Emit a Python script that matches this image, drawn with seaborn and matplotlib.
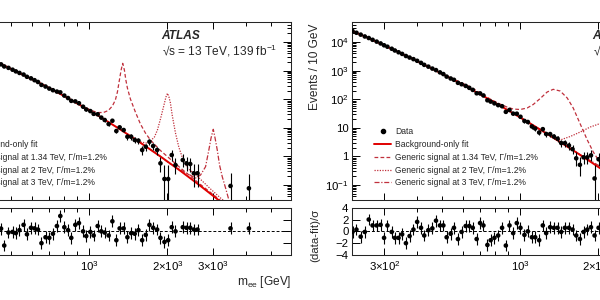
import matplotlib
matplotlib.use("Agg")
import matplotlib.pyplot as plt
import seaborn as sns
from matplotlib.lines import Line2D
from matplotlib.ticker import FixedLocator, FuncFormatter, NullFormatter

# ---------------- left figure: dielectron ----------------
ee_mass = [457, 470, 488, 506, 521, 538, 558, 575, 596, 615, 634, 654, 678, 701, 724,
           750, 773, 801, 828, 852, 883, 912, 946, 973, 1009, 1039, 1077, 1112, 1146, 1187,
           1227, 1271, 1309, 1356, 1402, 1449, 1496, 1546, 1598, 1650, 1705, 1762, 1825, 1880,
           1948, 2013, 2078, 2148, 2292, 2369, 2448, 2528, 2612, 3501, 4121]
ee_events = [1657, 1398, 1249, 1077, 942, 830, 728, 609, 537, 463, 401, 317, 278, 236, 207,
             185, 174, 134, 110, 87.7, 84.0, 72.5, 54.8, 43.9, 38.5, 30.9, 29.8, 22.8, 18.8, 13.6,
             17.7, 7.74, 10.4, 8.39, 4.9, 4.9, 3.76, 3.56, 1.68, 2.19, 3.27, 2.32, 1.68, 0.575,
             0.163, 0.163, 1.12, 0.50, 0.75, 0.575, 0.545, 0.258, 0.258, 0.093, 0.077]
ee_err_lo = [33, 30, 28, 25, 23, 21.5, 19.8, 17.9, 16.5, 15.1, 13.8, 12.1, 11.1, 10.1, 9.3,
             8.6, 8.2, 7.1, 6.3, 5.6, 5.4, 4.9, 4.2, 3.7, 3.4, 3.0, 2.9, 2.5, 2.2, 1.86,
             2.09, 1.35, 1.55, 1.37, 1.03, 1.01, 0.87, 0.83, 0.56, 0.63, 0.76, 0.63, 0.53, 0.30,
             0.163, 0.163, 0.40, 0.26, 0.31, 0.27, 0.26, 0.175, 0.17, 0.093, 0.077]
ee_err_hi = [33, 30, 28, 25, 23, 21.5, 19.8, 17.9, 16.5, 15.1, 13.8, 12.1, 11.1, 10.1, 9.3,
             8.6, 8.2, 7.1, 6.3, 5.6, 5.4, 4.9, 4.2, 3.7, 3.4, 3.0, 2.9, 2.5, 2.2, 1.86,
             2.09, 1.35, 1.55, 1.37, 1.03, 1.01, 0.87, 0.83, 0.56, 0.63, 0.76, 0.63, 0.53, 0.42,
             0.34, 0.34, 0.50, 0.36, 0.42, 0.38, 0.37, 0.27, 0.27, 0.18, 0.17]
ee_pull = [0.46, -2.4, -0.2, -0.1, -0.3, 0.2, 1.1, -0.5, 0.6, 0.5, 0.3, -2.0, -1.0, -1.1, -0.4,
           0.9, 2.6, 0.7, 0.2, -1.1, 1.1, 1.4, 0.0, -0.8, -0.1, -0.7, 0.9, 0.0, -0.2, -0.7,
           1.7, -1.5, 0.5, 0.5, -1.0, -0.3, -0.4, 0.2, -1.5, -0.6, 1.1, 0.6, 0.3, -1.1,
           -1.8, -1.5, 0.7, 0.0, 0.7, 0.6, 0.6, 0.3, 0.3, 0.5, 0.5]

ee_fit_mass = [415, 457, 541, 647, 773, 923, 1103, 1317, 1573, 1880, 2246, 2683, 3205, 3500]
ee_fit = [2427, 1702, 805, 360, 153, 62.2, 23.9, 8.75, 3.02, 0.995, 0.312, 0.0927, 0.0262, 0.0136]

ee_sig1_mass = [773, 883, 948, 1009, 1074, 1133, 1184, 1227, 1260, 1283, 1306, 1326, 1345,
                1365, 1383, 1402, 1440, 1505, 1574, 1645, 1720, 1880, 2246, 2683, 3205]
ee_sig1 = [153.5, 81.3, 56.5, 42.0, 34.3, 34.3, 40.4, 57.9, 93.9, 178.6, 469.5, 1050, 1799,
           1050, 469.5, 246.6, 101.8, 35.7, 13.6, 6.6, 3.76, 1.61, 0.394, 0.1045, 0.0288]
ee_sig2_mass = [1317, 1440, 1574, 1660, 1720, 1782, 1830, 1880, 1914, 1948, 1974, 2001, 2027,
                2054, 2086, 2148, 2212, 2286, 2390, 2612, 2933, 3205, 3381]
ee_sig2 = [8.75, 5.18, 3.20, 2.95, 3.47, 4.78, 8.39, 20.4, 38.7, 73.8, 119.6, 161, 119.6,
           73.8, 28.1, 6.59, 2.14, 0.881, 0.394, 0.199, 0.0728, 0.0352, 0.0236]
ee_sig3_mass = [1573, 1720, 1880, 2054, 2348, 2567, 2683, 2805, 2888, 2945, 3004, 3052, 3112,
                3176, 3253, 3350, 3450, 3566]
ee_sig3 = [3.02, 1.75, 0.995, 0.540, 0.272, 0.176, 0.224, 0.438, 1.68, 4.41, 8.89, 4.41, 1.68,
           0.502, 0.196, 0.0789, 0.030, 0.0158]

# ---------------- right figure: dimuon ----------------
mm_mass = [226, 234, 243, 252, 261, 270, 280, 290, 299, 308, 320, 329, 340, 351, 363, 375, 388,
           401, 415, 427, 443, 459, 474, 491, 506, 521, 540, 556, 576, 595, 617, 637, 657, 680,
           701, 722, 748, 770, 796, 823, 852, 881, 910, 940, 971, 1003, 1039, 1071, 1110, 1143,
           1184, 1223, 1260, 1305, 1349, 1394, 1440, 1488, 1542, 1592, 1645, 1700, 1756, 1814,
           1875, 1936, 2006]
mm_events = [24220, 21070, 18120, 15640, 13800, 11950, 10330, 8920, 7690, 6860, 5820, 5057,
             4384, 3844, 3246, 2859, 2520, 2205, 1867, 1591, 1378, 1178, 1043, 868, 757, 618,
             531, 477, 374, 334, 292, 250, 212, 161.3, 160, 135.6, 91.9, 82.7, 71.7, 62.1, 57.0,
             36.2, 42.2, 31.4, 31.2, 24.4, 17.4, 16.0, 11.2, 9.5, 6.87, 9.0, 6.1, 6.06, 4.97,
             4.18, 2.95, 2.93, 2.41, 1.8, 0.86, 0.51, 0.93, 0.93, 1.09, 0.17, 0.8]
mm_err_lo = [180, 164, 150, 136, 126, 115, 105, 96, 88, 82, 74, 68, 62, 57, 52, 48, 44, 41, 37,
             33, 31, 28, 26, 23, 21, 19, 17, 16, 14, 13, 12, 10.9, 9.9, 8.4, 8.3, 7.5, 6.1, 5.7,
             5.2, 4.8, 4.5, 3.5, 3.7, 3.2, 3.1, 2.7, 2.2, 2.1, 1.74, 1.58, 1.32, 1.49, 1.21,
             1.18, 1.05, 0.95, 0.79, 0.77, 0.69, 0.58, 0.40, 0.30, 0.40, 0.39, 0.42, 0.17, 0.35]
mm_err_hi = [180, 164, 150, 136, 126, 115, 105, 96, 88, 82, 74, 68, 62, 57, 52, 48, 44, 41, 37,
             33, 31, 28, 26, 23, 21, 19, 17, 16, 14, 13, 12, 10.9, 9.9, 8.4, 8.3, 7.5, 6.1, 5.7,
             5.2, 4.8, 4.5, 3.5, 3.7, 3.2, 3.1, 2.7, 2.2, 2.1, 1.74, 1.58, 1.32, 1.49, 1.21,
             1.18, 1.05, 0.95, 0.79, 0.77, 0.8, 0.7, 0.55, 0.45, 0.55, 0.54, 0.57, 0.33, 0.5]
mm_pull = [-0.1, 0.3, -0.9, -0.1, 2.0, 1.0, 1.0, 1.1, -1.1, 1.0, -0.1, -1.1, -1.1, -0.5, -2.0,
           -0.8, 0.3, 1.6, 0.6, -0.7, 0.2, 0.5, 1.8, 1.0, 1.0, -1.0, -0.4, 0.6, -1.3, -0.1,
           0.9, 0.9, 0.6, -1.3, 1.4, 1.0, -2.3, -1.5, -1.1, -0.7, 0.6, -2.4, 1.0, -0.3, 1.4,
           0.6, -0.6, 0.0, -1.0, -1.0, -1.5, 1.0, -0.3, 0.7, 0.6, 0.6, -0.1, 0.6, 0.6, 0.3,
           -0.7, -1.3, -0.1, 0.3, 0.7, -0.7, 0.6]

mm_fit_mass = [226, 270, 322, 385, 460, 550, 657, 785, 937, 1119, 1338, 1598, 1909, 2280, 2723]
mm_fit = [24240, 11838, 5605, 2573, 1145, 494, 206, 83.6, 32.8, 12.5, 4.61, 1.65, 0.572, 0.192,
          0.063]

mm_sig1_mass = [491, 641, 766, 837, 889, 940, 1000, 1064, 1123, 1195, 1271, 1341, 1427, 1519,
                1602, 1705, 1815, 1914, 2037, 2226, 2433]
mm_sig1 = [845, 274, 101.8, 68.1, 53.5, 45.5, 43.7, 49.3, 65.3, 105.9, 178.6, 222, 193.8, 110.4,
           49.3, 13.6, 3.76, 1.43, 0.590, 0.254, 0.133]
mm_sig2_mass = [1000, 1195, 1306, 1427, 1560, 1705, 1864, 2037, 2226, 2433, 2906]
mm_sig2 = [23.2, 8.67, 5.40, 3.76, 4.98, 7.14, 10.7, 14.2, 14.8, 11.6, 3.76]
mm_sig3_mass = [1000, 1427, 1705, 1914, 2037, 2226, 2433, 2700, 3000]
mm_sig3 = [23.2, 3.2, 1.15, 0.62, 0.45, 0.33, 0.35, 0.55, 1.0]

sig_labels = [u"Generic signal at 1.34 TeV, \u0393/m=1.2%",
              u"Generic signal at 2 TeV, \u0393/m=1.2%",
              u"Generic signal at 3 TeV, \u0393/m=1.2%"]

# ---------------- style ----------------
sns.set_theme(style="ticks")
plt.rcParams["font.family"] = ["Liberation Sans", "DejaVu Sans"]
plt.rcParams["mathtext.fontset"] = "custom"
plt.rcParams["mathtext.rm"] = "Liberation Sans"
plt.rcParams["mathtext.it"] = "Liberation Sans:italic"
plt.rcParams["mathtext.bf"] = "Liberation Sans:bold"
plt.rcParams["axes.linewidth"] = 0.75

FIT_C = "#e00000"
SIG_C = "#c0303c"
LS1 = (0, (3, 1.8))
LS2 = (0, (1, 1.1))
LS3 = (0, (4, 1.4, 1, 1.4))
FS = 8.6


def ylog_fmt(v, pos):
    if abs(v - 1) < 1e-9:
        return "1"
    if abs(v - 10) < 1e-9:
        return "10"
    e = int(round(__import__("math").log10(v)))
    return r"$10^{%d}$" % e


x_labels = {300: r"$3{\times}10^{2}$", 1000: r"$10^{3}$",
            2000: r"$2{\times}10^{3}$", 3000: r"$3{\times}10^{3}$"}


def style_axes(ax, ratio=False):
    ax.set_xscale("log")
    ax.set_xlim(225, 6000)
    ax.xaxis.set_major_locator(FixedLocator([300, 1000, 2000, 3000]))
    ax.xaxis.set_minor_locator(FixedLocator([200, 400, 500, 600, 700, 800, 900,
                                             4000, 5000, 6000]))
    ax.xaxis.set_minor_formatter(NullFormatter())
    ax.tick_params(axis="both", which="both", direction="in", top=True, right=True,
                   width=0.7, colors="black", labelsize=8.2)
    ax.tick_params(axis="x", which="major", length=5, pad=3)
    ax.tick_params(axis="x", which="minor", length=2.9)
    ax.tick_params(axis="y", which="major", length=6, pad=2.5)
    ax.tick_params(axis="y", which="minor", length=3.2)
    if ratio:
        ax.set_ylim(-4, 4)
        ax.set_yticks([-4, -2, 0, 2, 4])
        ax.xaxis.set_major_formatter(FuncFormatter(lambda v, p: x_labels.get(int(round(v)), "")))
    else:
        ax.set_yscale("log")
        ax.set_ylim(0.03, 5e4)
        ax.yaxis.set_major_locator(FixedLocator([0.1, 1, 10, 100, 1e3, 1e4]))
        ax.yaxis.set_minor_locator(FixedLocator(
            [m * 10.0 ** e for e in range(-2, 5) for m in range(2, 10)]))
        ax.yaxis.set_minor_formatter(NullFormatter())
        ax.yaxis.set_major_formatter(FuncFormatter(ylog_fmt))
        ax.xaxis.set_major_formatter(NullFormatter())


def draw(ax_main, ax_ratio, mass, events, lo, hi, pull, fit_m, fit_v, sigs, xlab):
    style_axes(ax_main)
    style_axes(ax_ratio, ratio=True)

    sns.lineplot(x=fit_m, y=fit_v, ax=ax_main, color=FIT_C, lw=1.4,
                 estimator=None, sort=False, zorder=3)
    for (sm, sv), ls in zip(sigs, [LS1, LS2, LS3]):
        sns.lineplot(x=sm, y=sv, ax=ax_main, color=SIG_C, lw=0.9, linestyle=ls,
                     estimator=None, sort=False, zorder=2)

    ax_main.errorbar(mass, events, yerr=[lo, hi], fmt="none", ecolor="black",
                     elinewidth=0.8, capsize=0, zorder=4)
    sns.scatterplot(x=mass, y=events, ax=ax_main, color="black", s=11,
                    edgecolor="none", zorder=5, legend=False)

    ax_ratio.axhline(0, color="black", lw=0.7, ls=(0, (3, 2)), zorder=1)
    ax_ratio.errorbar(mass, pull, yerr=1.0, fmt="none", ecolor="black",
                      elinewidth=0.8, capsize=0, zorder=4)
    sns.scatterplot(x=mass, y=pull, ax=ax_ratio, color="black", s=11,
                    edgecolor="none", zorder=5, legend=False)

    ax_main.set_xlabel("")
    ax_ratio.set_xlabel("")
    ax_main.set_ylabel("Events / 10 GeV", fontsize=FS)
    ax_main.yaxis.set_label_coords(-0.1, 0.75)
    ax_main.yaxis.label.set_va("center")
    ax_ratio.set_ylabel(u"(data-fit)/\u03c3", fontsize=8.2)
    ax_ratio.yaxis.set_label_coords(-0.1, 0.42)
    ax_ratio.yaxis.label.set_va("center")
    ax_ratio.text(1.0, -0.57, xlab, transform=ax_ratio.transAxes, ha="right",
                  va="center", fontsize=FS)

    ax_main.text(0.65, 0.921, "ATLAS", transform=ax_main.transAxes, fontsize=FS,
                 fontweight="bold", fontstyle="italic", va="center")
    ax_main.text(0.65, 0.837, u"\u221as = 13 TeV, 139 fb$^{-1}$", transform=ax_main.transAxes,
                 fontsize=FS, va="center")

    handles = [Line2D([], [], marker="o", color="black", ls="none", markersize=3),
               Line2D([], [], color=FIT_C, lw=1.4),
               Line2D([], [], color=SIG_C, lw=0.9, ls=LS1),
               Line2D([], [], color=SIG_C, lw=0.9, ls=LS2),
               Line2D([], [], color=SIG_C, lw=0.9, ls=LS3)]
    labels = ["Data", "Background-only fit"] + sig_labels
    ax_main.legend(handles, labels, loc="upper left", bbox_to_anchor=(0.06, 0.41),
                   frameon=False, fontsize=6.15, handlelength=2.0, handletextpad=0.45,
                   labelspacing=0.45, borderpad=0, borderaxespad=0)


fig = plt.figure(figsize=(6, 3), dpi=100)
W = 0.6167
ax_l = fig.add_axes([-0.1313, 0.3333, W, 0.5933])
ax_lr = fig.add_axes([-0.1313, 0.15, W, 0.1577])
ax_r = fig.add_axes([0.5867, 0.3333, W, 0.5933])
ax_rr = fig.add_axes([0.5867, 0.15, W, 0.1577])

draw(ax_l, ax_lr, ee_mass, ee_events, ee_err_lo, ee_err_hi, ee_pull, ee_fit_mass, ee_fit,
     [(ee_sig1_mass, ee_sig1), (ee_sig2_mass, ee_sig2), (ee_sig3_mass, ee_sig3)],
     r"m$_{\mathrm{ee}}$ [GeV]")
draw(ax_r, ax_rr, mm_mass, mm_events, mm_err_lo, mm_err_hi, mm_pull, mm_fit_mass, mm_fit,
     [(mm_sig1_mass, mm_sig1), (mm_sig2_mass, mm_sig2), (mm_sig3_mass, mm_sig3)],
     r"m$_{\mu\mu}$ [GeV]")

fig.savefig("out.png", dpi=100)
